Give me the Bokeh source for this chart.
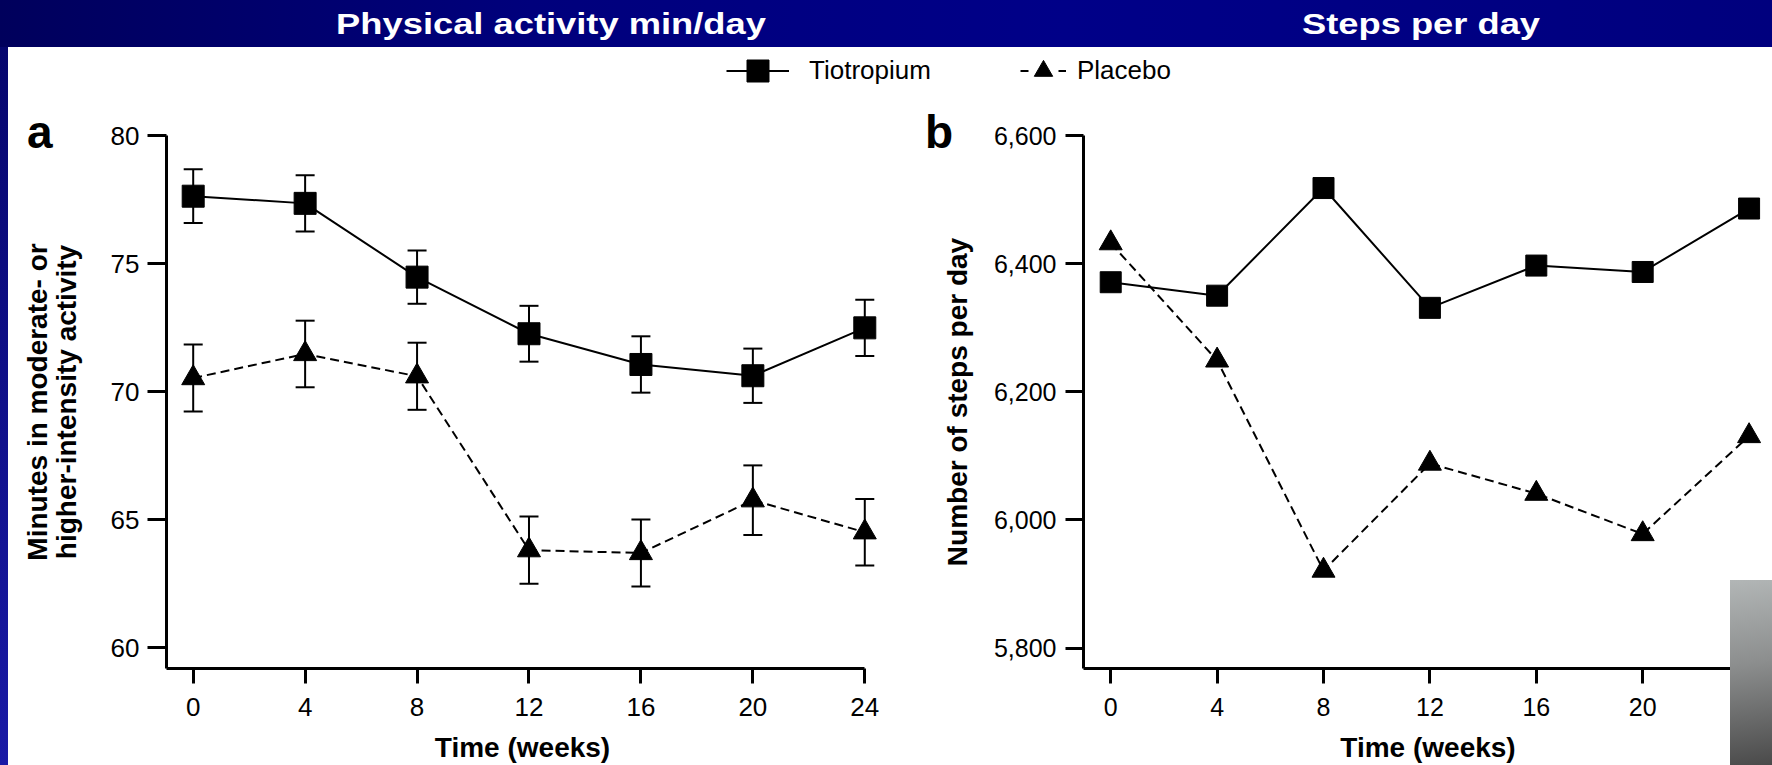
from bokeh.plotting import figure
from bokeh.models import (Range1d, FixedTicker, NumeralTickFormatter, Whisker, TeeHead,
                          ColumnDataSource, Legend, LegendItem, Div)
from bokeh.layouts import column, row
from bokeh.embed import file_html
from bokeh.resources import INLINE

# ---- data -------------------------------------------------------------
weeks = [0, 4, 8, 12, 16, 20, 24]

tio_minutes = [77.63, 77.35, 74.47, 72.26, 71.06, 70.62, 72.49]
tio_minutes_se = [1.05, 1.10, 1.04, 1.09, 1.10, 1.06, 1.10]
pla_minutes = [70.53, 71.47, 70.60, 63.81, 63.70, 65.76, 64.51]
pla_minutes_se = [1.31, 1.30, 1.31, 1.31, 1.31, 1.36, 1.30]

tio_steps = [6371, 6350, 6518, 6331, 6397, 6387, 6486]
pla_steps = [6432, 6249, 5921, 6088, 6041, 5978, 6131]

minutes_ticks = [60, 65, 70, 75, 80]
steps_ticks = [5800, 6000, 6200, 6400, 6600]

series_names = ["Tiotropium", "Placebo"]
panel_titles = ["Physical activity min/day", "Steps per day"]
panel_letters = ["a", "b"]
x_title = "Time (weeks)"
y_titles = ["Minutes in moderate- or\nhigher-intensity activity", "Number of steps per day"]

FONT = "Liberation Sans"
DASH = "9 5"


def base_axes(p, tick_font, y_tick_out, x_tick_out, y_std, x_std):
    for ax in (p.xaxis[0], p.yaxis[0]):
        ax.axis_line_width = 3
        ax.axis_line_color = "black"
        ax.major_tick_line_width = 3
        ax.major_tick_line_color = "black"
        ax.major_tick_in = 0
        ax.minor_tick_line_color = None
        ax.major_label_text_font = FONT
        ax.major_label_text_font_size = tick_font
        ax.major_label_text_color = "black"
        ax.axis_label_text_font = FONT
        ax.axis_label_text_font_style = "bold"
        ax.axis_label_text_font_size = "28px"
        ax.axis_label_text_color = "black"
    p.yaxis[0].major_tick_out = y_tick_out
    p.xaxis[0].major_tick_out = x_tick_out
    p.yaxis[0].major_label_standoff = y_std
    p.xaxis[0].major_label_standoff = x_std
    p.grid.visible = False
    p.outline_line_color = None
    p.background_fill_color = "white"
    p.border_fill_color = "white"


def add_errorbars(p, ys, errs):
    src = ColumnDataSource(dict(x=weeks,
                                lo=[v - e for v, e in zip(ys, errs)],
                                hi=[v + e for v, e in zip(ys, errs)]))
    p.add_layout(Whisker(source=src, base="x", lower="lo", upper="hi",
                         line_width=2, line_color="black", level="underlay",
                         upper_head=TeeHead(size=19, line_width=2, line_color="black"),
                         lower_head=TeeHead(size=19, line_width=2, line_color="black")))


# ---- panel a: minutes of activity --------------------------------------
xa = Range1d(-0.954, 24.49)
p_a = figure(width=897, height=660, x_range=xa, y_range=Range1d(59.19, 80.0),
             output_backend="svg", toolbar_location=None, title=None,
             min_border_left=158, min_border_right=27, min_border_top=30,
             min_border_bottom=97)
base_axes(p_a, "26px", 19, 15, 8, 14)
p_a.xaxis[0].ticker = FixedTicker(ticks=weeks)
p_a.yaxis[0].ticker = FixedTicker(ticks=minutes_ticks)
p_a.xaxis[0].bounds = (xa.start, 24)
p_a.xaxis[0].axis_label = x_title
p_a.xaxis[0].axis_label_standoff = 13
p_a.yaxis[0].axis_label = y_titles[0]
p_a.yaxis[0].axis_label_standoff = 26
p_a.yaxis[0].axis_label_text_line_height = 0.93

add_errorbars(p_a, pla_minutes, pla_minutes_se)
add_errorbars(p_a, tio_minutes, tio_minutes_se)
p_a.line(weeks, pla_minutes, line_color="black", line_width=2, line_dash=DASH)
p_a.line(weeks, tio_minutes, line_color="black", line_width=2)
p_a.scatter(weeks, pla_minutes, marker="triangle", size=23, color="black")
p_a.scatter(weeks, tio_minutes, marker="square", size=22, color="black")

# ---- panel b: steps per day --------------------------------------------
xb = Range1d(-1.023, 24.88)
p_b = figure(width=867, height=660, x_range=xb, y_range=Range1d(5768.1, 6600),
             output_backend="svg", toolbar_location=None, title=None,
             min_border_left=178, min_border_right=0, min_border_top=26,
             min_border_bottom=97)
base_axes(p_b, "25px", 18, 15, 9, 14)
p_b.xaxis[0].ticker = FixedTicker(ticks=weeks)
p_b.yaxis[0].ticker = FixedTicker(ticks=steps_ticks)
p_b.yaxis[0].formatter = NumeralTickFormatter(format="0,0")
p_b.xaxis[0].bounds = (xb.start, 24)
p_b.xaxis[0].axis_label = x_title
p_b.xaxis[0].axis_label_standoff = 13
p_b.yaxis[0].axis_label = y_titles[1]
p_b.yaxis[0].axis_label_standoff = 18

p_b.line(weeks, pla_steps, line_color="black", line_width=2, line_dash=DASH)
p_b.line(weeks, tio_steps, line_color="black", line_width=2)
p_b.scatter(weeks, pla_steps, marker="triangle", size=23, color="black")
p_b.scatter(weeks, tio_steps, marker="square", size=21, color="black")

# ---- shared legend strip -----------------------------------------------
p_leg = figure(width=1764, height=58, x_range=Range1d(0, 1), y_range=Range1d(0, 1),
               output_backend="svg", toolbar_location=None, title=None,
               x_axis_location=None, y_axis_location=None, min_border=0)
p_leg.grid.visible = False
p_leg.outline_line_color = None
p_leg.border_fill_color = "white"
# legend keys only: their single point lies outside the strip's visible range
r_tio_line = p_leg.line([5, 6], [5, 6], line_color="black", line_width=2)
r_tio_mark = p_leg.scatter([5], [5], marker="square", color="black")
r_pla_line = p_leg.line([5, 6], [5, 6], line_color="black", line_width=2, line_dash="8 30")
r_pla_mark = p_leg.scatter([5], [5], marker="triangle", color="black")

leg_common = dict(padding=0, margin=0, spacing=0, border_line_color=None,
                  background_fill_alpha=0, label_text_font=FONT,
                  label_text_font_size="26px", label_text_color="black",
                  glyph_height=55, label_height=26)
p_leg.add_layout(Legend(items=[LegendItem(label=series_names[0],
                                          renderers=[r_tio_line, r_tio_mark])],
                        location=(718, 7), glyph_width=63, label_standoff=20,
                        **leg_common))
p_leg.add_layout(Legend(items=[LegendItem(label=series_names[1],
                                          renderers=[r_pla_line, r_pla_mark])],
                        location=(1012, 7), glyph_width=46, label_standoff=11,
                        **leg_common))

# ---- slide decoration ----------------------------------------------------
title_spans = "".join(
    f'<span style="position:absolute;left:{cx}px;top:24px;'
    f'transform:translate(-50%,-50%) scaleX(1.21);font-weight:bold;font-size:30px;'
    f"font-family:'{FONT}';color:white;white-space:nowrap;\">{t}</span>"
    for t, cx in zip(panel_titles, [551, 1421]))
header = Div(text=f'<div style="position:relative;width:1772px;height:47px;">{title_spans}</div>',
             width=1772, height=47, margin=0,
             styles={"background": "linear-gradient(90deg, #00005c 0%, #00007c 30%, #000088 60%, #00007e 100%)",
                     "overflow": "hidden"})
strip = Div(text="", width=8, height=718, margin=0,
            styles={"background": "linear-gradient(180deg, #06066e 0%, #1a1aa6 100%)"})
corner = Div(text="", width=42, height=185, margin=0,
             styles={"position": "absolute", "left": "1730px", "top": "580px",
                     "z-index": "10",
                     "background": "linear-gradient(172deg, #b2b6b6 0%, #8c8e8e 45%, #4a4a4a 100%)"})


def letter_div(txt, left):
    return Div(text=f"<span style=\"font-family:'{FONT}';font-weight:bold;font-size:46px;"
                    f"line-height:46px;color:black;\">{txt}</span>",
               width=40, height=46, margin=0,
               styles={"position": "absolute", "left": f"{left}px", "top": "109px",
                       "z-index": "10"})


letters = [letter_div(t, x) for t, x in zip(panel_letters, [27, 925])]

layout = column(header,
                row(strip, column(p_leg, row(p_a, p_b, spacing=0), spacing=0), spacing=0),
                corner, *letters, spacing=0)

open("out.html", "w").write(file_html(layout, INLINE))
